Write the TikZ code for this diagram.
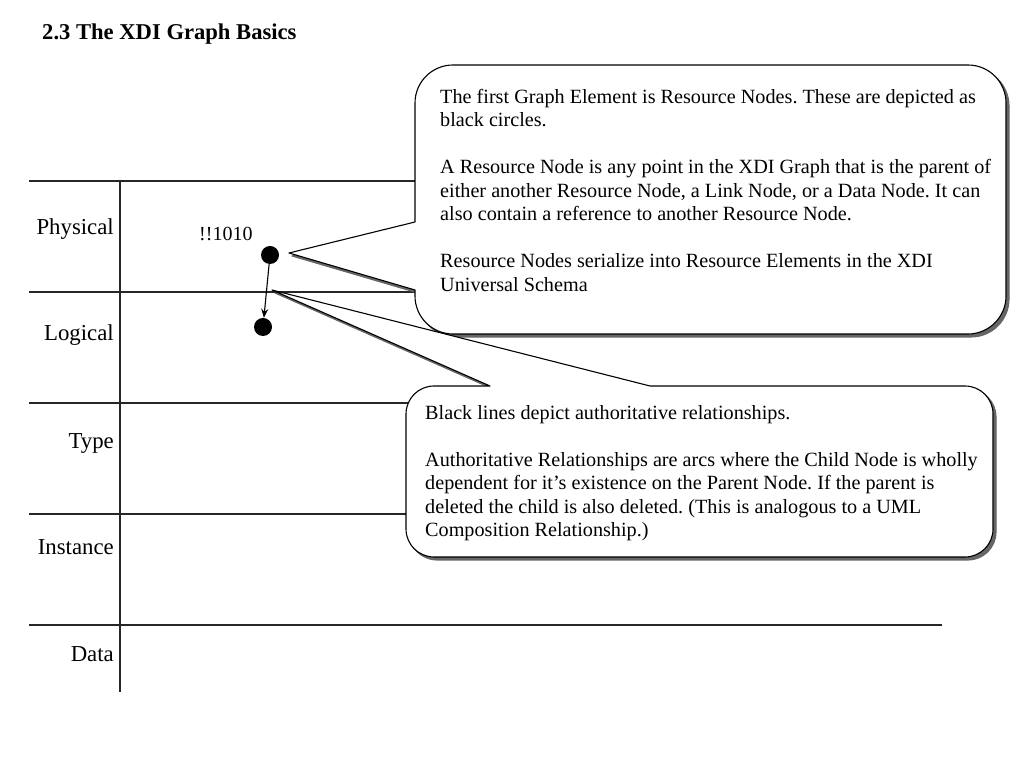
\documentclass[tikz,border=0pt]{standalone}
\usepackage{fontspec}
\setmainfont{Liberation Serif}
\usetikzlibrary{arrows.meta}
\frenchspacing
\newcommand{\calloutApath}{(453,703) -- (968,703) arc[start angle=90,end angle=0,radius=38] -- (1006,472) arc[start angle=0,end angle=-90,radius=38] -- (453,434) arc[start angle=270,end angle=180,radius=38] -- (415,478) -- (289,515) -- (415,546) -- (415,665) arc[start angle=180,end angle=90,radius=38] -- cycle}
\newcommand{\calloutBpath}{(434,382) -- (490,382) -- (272,478) -- (650,382) -- (965,382) arc[start angle=90,end angle=0,radius=28] -- (993,239) arc[start angle=0,end angle=-90,radius=28] -- (434,211) arc[start angle=270,end angle=180,radius=28] -- (406,354) arc[start angle=180,end angle=90,radius=28] -- cycle}
\begin{document}
\begin{tikzpicture}[x=1pt,y=1pt,
  rule/.style={draw=black!85, line width=1.1pt},
  rowlabel/.style={anchor=base east, inner sep=0, font=\fontsize{22.8}{26}\selectfont},
  resnode/.style={circle, fill=black, minimum size=18pt, inner sep=0},
  calloutshape/.style={fill=white, draw=black, line width=1.1pt, line join=round},
  calloutshadow/.style={fill=black!60, draw=black!60, line width=1.1pt, line join=round},
  callouttext/.style={anchor=north west, inner sep=0, align=left, font=\fontsize{20.2}{23.5}\selectfont},
  link/.style={draw=black, line width=1.1pt, -{Stealth[length=9pt,width=7pt]}}
]
\useasboundingbox (0,0) rectangle (1024,768);
\fill[white] (0,0) rectangle (1024,768);

\node[anchor=base west, inner sep=0, font=\bfseries\fontsize{22.6}{26}\selectfont] (title) at (42,728) {2.3 The XDI Graph Basics};

% rows
\draw[rule] (29,587) -- (942,587);
\draw[rule] (29,476) -- (942,476);
\draw[rule] (29,365) -- (942,365);
\draw[rule] (29,254) -- (942,254);
\draw[rule] (29,143) -- (942,143);
\draw[rule] (120,587) -- (120,76);

\node[rowlabel] (lphys) at (114,533) {Physical};
\node[rowlabel] (llog) at (114,427) {Logical};
\node[rowlabel] (ltype) at (114,319) {Type};
\node[rowlabel] (linst) at (114,213) {Instance};
\node[rowlabel] (ldata) at (114,107) {Data};

% callout A
\fill[calloutshadow, xshift=3pt, yshift=-3pt] \calloutApath;
\filldraw[calloutshape] \calloutApath;
\node[callouttext] (ta) at (440,679) {The first Graph Element is Resource Nodes. These are depicted as\\
black circles.\\[23.5pt]
A Resource Node is any point in the XDI Graph that is the parent of\\
either another Resource Node, a Link Node, or a Data Node. It can\\
also contain a reference to another Resource Node.\\[23.5pt]
Resource Nodes serialize into Resource Elements in the XDI\\
Universal Schema};

% callout B
\fill[calloutshadow, xshift=3pt, yshift=-3pt] \calloutBpath;
\filldraw[calloutshape] \calloutBpath;
\node[callouttext] (tb) at (425,363) {Black lines depict authoritative relationships.\\[23.7pt]
Authoritative Relationships are arcs where the Child Node is wholly\\
dependent for it’s existence on the Parent Node. If the parent is\\
deleted the child is also deleted. (This is analogous to a UML\\
Composition Relationship.)};

% graph
\node[anchor=base west, inner sep=0, font=\fontsize{20}{24}\selectfont] (lbl) at (199,527) {!!1010};
\node[resnode] (n1) at (270,513) {};
\node[resnode] (n2) at (263,441) {};
\draw[link] (n1) -- (n2);
\end{tikzpicture}
\end{document}
